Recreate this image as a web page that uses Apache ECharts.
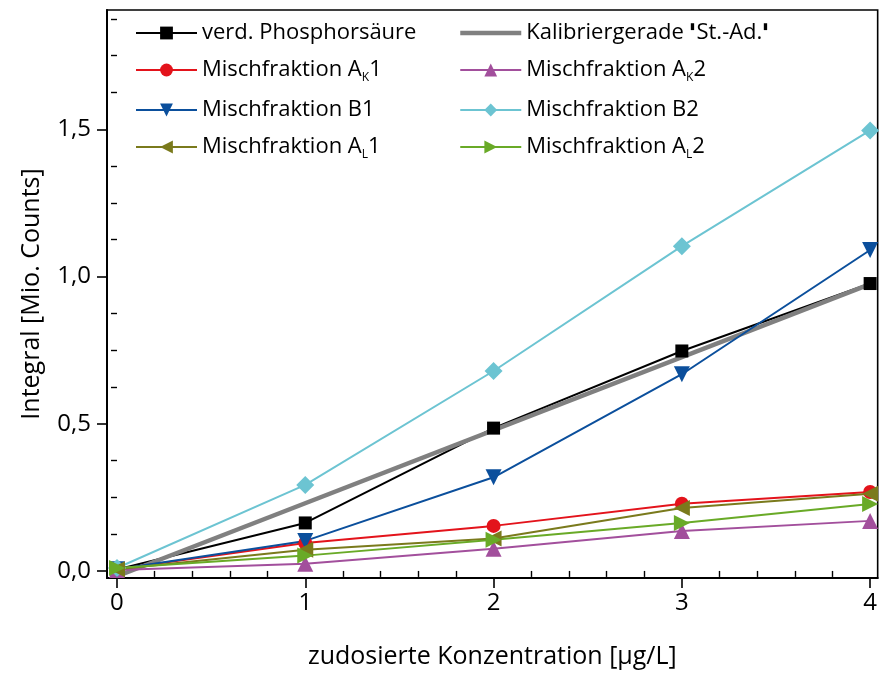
<!DOCTYPE html>
<html>
<head>
<meta charset="utf-8">
<script src="https://cdn.jsdelivr.net/npm/echarts@6/dist/echarts.min.js"></script>
<style>
  html, body { margin: 0; padding: 0; background: #fff; }
  #chart { width: 880px; height: 675px; }
</style>
</head>
<body>
<div id="chart"></div>
<script>
// Dosed concentration (µg/L)
const concentrations = [0, 1, 2, 3, 4];

// Peak integrals in million counts
const phosphoric  = [0.005, 0.163, 0.485, 0.747, 0.976];
const calibLine   = [[0, -0.018], [4, 0.974]];
const fracAK1     = [0.006, 0.095, 0.153, 0.228, 0.268];
const fracAK2     = [0.003, 0.024, 0.075, 0.136, 0.170];
const fracB1      = [0.006, 0.102, 0.318, 0.668, 1.090];
const fracB2      = [0.010, 0.292, 0.679, 1.103, 1.496];
const fracAL1     = [0.006, 0.072, 0.110, 0.214, 0.262];
const fracAL2     = [0.010, 0.052, 0.106, 0.163, 0.227];

// Axis tick positions
const xMajorTicks = [0, 1, 2, 3, 4];
const xMinorTicks = [0.2, 0.4, 0.6, 0.8, 1.2, 1.4, 1.6, 1.8, 2.2, 2.4, 2.6, 2.8, 3.2, 3.4, 3.6, 3.8];
const yMajorTicks = [0, 0.5, 1.0, 1.5];
const yMinorTicks = [0.125, 0.25, 0.375, 0.625, 0.75, 0.875, 1.125, 1.25, 1.375, 1.625, 1.75, 1.875];

const X_MIN = -0.053, X_MAX = 4.04;
const Y_MIN = -0.024, Y_MAX = 1.905;

const FONT = 'Open Sans';

const names = {
  phos: 'verd. Phosphorsäure',
  calib: 'Kalibriergerade "St.-Ad."',
  ak1: 'Mischfraktion AK1',
  ak2: 'Mischfraktion AK2',
  b1: 'Mischfraktion B1',
  b2: 'Mischfraktion B2',
  al1: 'Mischfraktion AL1',
  al2: 'Mischfraktion AL2'
};

// Legend labels with subscripts and raised quote marks
const legendLabels = {};
legendLabels[names.phos] = 'verd. Phosphorsäure';
legendLabels[names.calib] = 'Kalibriergerade {q|▮}St.-Ad.{q|▮}';
legendLabels[names.ak1] = 'Mischfraktion A{sub|K}1';
legendLabels[names.ak2] = 'Mischfraktion A{sub|K}2';
legendLabels[names.b1] = 'Mischfraktion B1';
legendLabels[names.b2] = 'Mischfraktion B2';
legendLabels[names.al1] = 'Mischfraktion A{sub|L}1';
legendLabels[names.al2] = 'Mischfraktion A{sub|L}2';

function pairs(vals) { return concentrations.map((c, i) => [c, vals[i]]); }

function lineSeries(name, data, color, symbol, size, rotate, width) {
  return {
    name: name,
    type: 'line',
    data: data,
    xAxisIndex: 0, yAxisIndex: 0,
    symbol: symbol,
    symbolSize: size,
    symbolRotate: rotate || 0,
    showSymbol: symbol !== 'none',
    lineStyle: { color: color, width: width || 2 },
    itemStyle: { color: color, borderWidth: 0 },
    emphasis: { disabled: true },
    animation: false,
    z: 3
  };
}

const legendText = {
  fontFamily: FONT,
  fontSize: 22,
  color: '#000',
  padding: [0, 0, 0, 0],
  rich: {
    sub: { fontFamily: FONT, fontSize: 12, color: '#000', verticalAlign: 'bottom', padding: [16, 0, 0, 0] },
    q: { fontFamily: FONT, fontSize: 9, color: '#000', verticalAlign: 'top', padding: [0, 1, 8, 1] }
  }
};

const legendCommon = {
  orient: 'vertical', top: 17, itemGap: 15,
  itemWidth: 61, itemHeight: 16,
  formatter: n => legendLabels[n],
  textStyle: legendText,
  selectedMode: false
};

const chart = echarts.init(document.getElementById('chart'), null, { renderer: 'canvas' });

chart.setOption({
  backgroundColor: '#fff',
  animation: false,
  grid: {
    left: 107, right: 2, top: 10, bottom: 97,
    show: true, borderColor: '#000', borderWidth: 1.6, backgroundColor: 'transparent'
  },
  legend: [
    Object.assign({}, legendCommon, {
      left: 130,
      data: [names.phos, names.ak1, names.b1, names.al1]
    }),
    Object.assign({}, legendCommon, {
      left: 453,
      data: [
        { name: names.calib, itemStyle: { opacity: 0 }, lineStyle: { width: 4.5 } },
        names.ak2, names.b2, names.al2
      ]
    })
  ],
  xAxis: [
    {
      type: 'value', min: X_MIN, max: X_MAX,
      name: 'zudosierte Konzentration [µg/L]',
      nameLocation: 'middle', nameGap: 66,
      nameTextStyle: { fontFamily: FONT, fontSize: 25, color: '#000' },
      axisLine: { show: true, onZero: false, lineStyle: { color: '#000', width: 2 } },
      axisTick: { show: true, customValues: xMajorTicks, length: 10, lineStyle: { color: '#000', width: 1.6 } },
      axisLabel: { customValues: xMajorTicks, margin: 13, fontFamily: FONT, fontSize: 24, color: '#000',
                   formatter: v => String(v) },
      splitLine: { show: false }
    },
    {
      type: 'value', min: X_MIN, max: X_MAX, position: 'bottom',
      axisLine: { show: false },
      axisTick: { show: true, customValues: xMinorTicks, length: 6, lineStyle: { color: '#000', width: 1.4 } },
      axisLabel: { show: false },
      splitLine: { show: false }
    }
  ],
  yAxis: [
    {
      type: 'value', min: Y_MIN, max: Y_MAX,
      name: 'Integral [Mio. Counts]',
      nameLocation: 'middle', nameGap: 63,
      nameTextStyle: { fontFamily: FONT, fontSize: 25, color: '#000' },
      axisLine: { show: true, onZero: false, lineStyle: { color: '#000', width: 2 } },
      axisTick: { show: true, customValues: yMajorTicks, length: 10, lineStyle: { color: '#000', width: 1.6 } },
      axisLabel: { customValues: yMajorTicks, margin: 16, fontFamily: FONT, fontSize: 24, color: '#000',
                   formatter: v => v.toFixed(1).replace('.', ',') },
      splitLine: { show: false }
    },
    {
      type: 'value', min: Y_MIN, max: Y_MAX, position: 'left',
      axisLine: { show: false },
      axisTick: { show: true, customValues: yMinorTicks, length: 6, lineStyle: { color: '#000', width: 1.4 } },
      axisLabel: { show: false },
      splitLine: { show: false }
    }
  ],
  series: [
    lineSeries(names.phos, pairs(phosphoric), '#000000', 'rect', 13, 0, 2),
    lineSeries(names.calib, calibLine, '#808080', 'none', 0, 0, 4.5),
    lineSeries(names.ak1, pairs(fracAK1), '#e3131b', 'circle', 14, 0, 2),
    lineSeries(names.ak2, pairs(fracAK2), '#a24f9c', 'triangle', 16, 0, 2),
    lineSeries(names.b1, pairs(fracB1), '#0b4f9c', 'triangle', 16, 180, 2),
    lineSeries(names.b2, pairs(fracB2), '#6cc4d2', 'diamond', 18, 0, 2),
    lineSeries(names.al1, pairs(fracAL1), '#7a7a1c', 'triangle', 16, 90, 2),
    lineSeries(names.al2, pairs(fracAL2), '#69aa27', 'triangle', 16, -90, 2)
  ]
});
</script>
</body>
</html>
